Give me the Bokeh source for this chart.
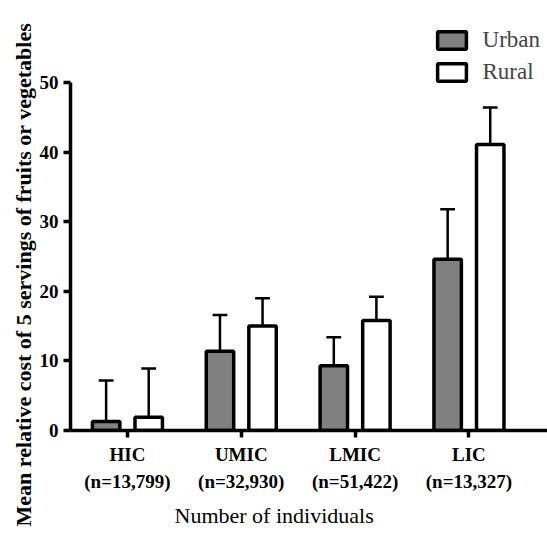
from bokeh.plotting import figure
from bokeh.models import Range1d, FixedTicker, Legend, LegendItem, Title, ColumnDataSource
from bokeh.embed import file_html
from bokeh.resources import INLINE

# Income groups and sample sizes
groups = ["HIC", "UMIC", "LMIC", "LIC"]
sizes = ["13,799", "32,930", "51,422", "13,327"]

# Mean relative cost (%) and SD, by setting
urban_mean = [1.3, 11.4, 9.3, 24.6]
urban_sd = [5.9, 5.2, 4.1, 7.2]
rural_mean = [1.9, 15.0, 15.8, 41.1]
rural_sd = [7.0, 4.0, 3.4, 5.3]

FONT = "Liberation Serif"
centers = [i + 0.5 for i in range(len(groups))]
offset = 0.187
bar_w = 0.241
cap_w = 0.13

W, H = 547, 533
p = figure(width=W, height=H, output_backend="svg", toolbar_location=None,
           x_range=Range1d(0, 4.19), y_range=Range1d(0, 58.9),
           min_border_left=70, min_border_right=0, min_border_top=20,
           min_border_bottom=102)
p.outline_line_color = None
p.grid.grid_line_color = None
p.background_fill_color = "white"
p.border_fill_color = "white"


def draw_series(means, sds, shift, fill):
    xs = [c + shift for c in centers]
    src = ColumnDataSource(dict(x=xs, top=means,
                                hi=[m + s for m, s in zip(means, sds)],
                                x0=[x - cap_w / 2 for x in xs],
                                x1=[x + cap_w / 2 for x in xs]))
    bars = p.vbar(x="x", top="top", bottom=0, width=bar_w, source=src,
                  fill_color=fill, line_color="black", line_width=3.5)
    p.segment(x0="x", y0="top", x1="x", y1="hi", source=src,
              line_color="black", line_width=2.5)
    p.segment(x0="x0", y0="hi", x1="x1", y1="hi", source=src,
              line_color="black", line_width=2.5)
    return bars


urban = draw_series(urban_mean, urban_sd, -offset, "#808080")
rural = draw_series(rural_mean, rural_sd, offset, "white")

# Axes
for ax in (p.xaxis[0], p.yaxis[0]):
    ax.axis_line_width = 3.5
    ax.major_tick_line_width = 3.5
    ax.major_tick_out = 7
    ax.major_tick_in = 0
    ax.minor_tick_line_color = None
    ax.major_label_text_font = FONT
    ax.major_label_text_font_style = "bold"
    ax.major_label_text_font_size = "19px"
    ax.major_label_text_color = "black"

p.yaxis.bounds = (0, 50)
p.yaxis.ticker = FixedTicker(ticks=[0, 10, 20, 30, 40, 50])
p.yaxis.major_label_standoff = 5

p.xaxis.bounds = (0, 4.19)
p.xaxis.ticker = FixedTicker(ticks=centers)
p.xaxis.major_label_overrides = {c: f"{g}\n(n={n})" for c, g, n in zip(centers, groups, sizes)}
p.xaxis.major_label_standoff = 6
p.xaxis.major_label_text_line_height = 1.3

# Axis titles as side titles, shifted along their panels
p.add_layout(Title(text="Mean relative cost of 5 servings of fruits or vegetables",
                   align="left", offset=-96, standoff=2,
                   text_font=FONT, text_font_style="bold", text_font_size="22px",
                   text_color="black"), "left")
p.add_layout(Title(text="Number of individuals", align="left", offset=104,
                   standoff=12, text_font=FONT, text_font_style="normal",
                   text_font_size="22px", text_color="black"), "below")

legend = Legend(items=[LegendItem(label="Urban", renderers=[urban]),
                       LegendItem(label="Rural", renderers=[rural])],
                location="top_right", glyph_width=36, glyph_height=22,
                label_text_font=FONT, label_text_font_size="23px",
                label_standoff=13, spacing=6, padding=7, margin=0,
                border_line_alpha=0, background_fill_alpha=0)
p.add_layout(legend)

open("out.html", "w").write(file_html(p, INLINE))
